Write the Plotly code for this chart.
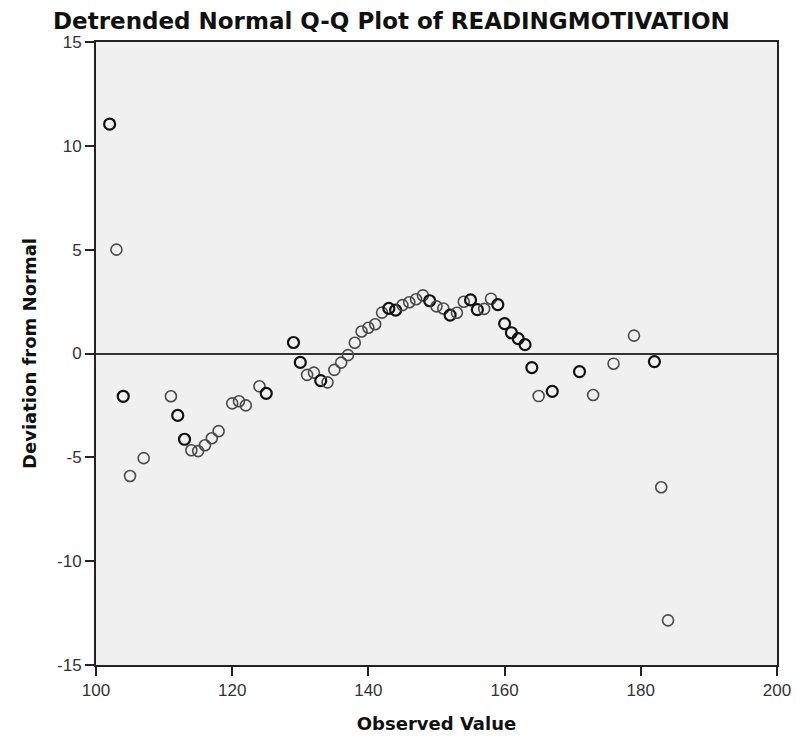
import plotly.graph_objects as go

observed = [102, 103, 104, 105, 107, 111, 112, 113, 114, 115, 116, 117, 118,
            120, 121, 122, 124, 125, 129, 130, 131, 132, 133, 134, 135, 136,
            137, 138, 139, 140, 141, 142, 143, 144, 145, 146, 147, 148, 149,
            150, 151, 152, 153, 154, 155, 156, 157, 158, 159, 160, 161, 162,
            163, 164, 165, 167, 171, 173, 176, 179, 182, 183, 184]
deviation = [11.05, 5.0, -2.06, -5.9, -5.04, -2.06, -2.98, -4.13, -4.66, -4.7,
             -4.42, -4.08, -3.74, -2.4, -2.3, -2.5, -1.58, -1.92, 0.53, -0.43,
             -1.03, -0.92, -1.31, -1.39, -0.79, -0.44, -0.08, 0.52, 1.06, 1.24,
             1.41, 1.97, 2.17, 2.09, 2.33, 2.47, 2.61, 2.8, 2.54, 2.27, 2.17,
             1.85, 1.96, 2.49, 2.58, 2.11, 2.15, 2.64, 2.35, 1.44, 1.0, 0.72,
             0.43, -0.68, -2.05, -1.82, -0.87, -2.0, -0.49, 0.86, -0.39, -6.44,
             -12.85]
# number of cases sharing the same observed value (drawn darker)
cases = [2, 1, 2, 1, 1, 1, 2, 2, 1, 1, 1, 1, 1, 1, 1, 1, 1, 2, 2, 2,
         1, 1, 2, 1, 1, 1, 1, 1, 1, 1, 1, 1, 2, 2, 1, 1, 1, 1, 2, 1, 1,
         2, 1, 1, 2, 2, 1, 1, 2, 2, 2, 2, 2, 2, 1, 2, 2, 1, 1, 1, 2, 1, 1]

x_ticks = [100, 120, 140, 160, 180, 200]
x_tick_labels = ["100", "120", "140", "160", "180", "200"]
y_ticks = [-15, -10, -5, 0, 5, 10, 15]
y_tick_labels = ["-15", "-10", "-5", "0", "5", "10", "15"]

line_colors = ["#111111" if c > 1 else "#4a4a4a" for c in cases]
line_widths = [2.2 if c > 1 else 1.6 for c in cases]

fig = go.Figure()
fig.add_trace(go.Scatter(
    x=observed, y=deviation, mode="markers",
    marker=dict(symbol="circle-open", size=11, color=line_colors,
                line=dict(color=line_colors, width=line_widths)),
    hoverinfo="x+y", showlegend=False))

axis_common = dict(showline=True, linecolor="#222222", linewidth=2, mirror=True,
                   ticks="outside", ticklen=9, tickcolor="#222222", tickwidth=1.5,
                   showgrid=False,
                   tickfont=dict(family="Liberation Sans", size=17, color="#333333"))

fig.update_layout(
    width=803, height=743,
    margin=dict(l=96, r=20, t=42, b=75),
    paper_bgcolor="white", plot_bgcolor="#f0f0f0",
    title=dict(text="<b>Detrended Normal Q-Q Plot of READINGMOTIVATION</b>",
               x=53 / 803, xanchor="left", y=1 - 21 / 743, yanchor="middle",
               font=dict(family="DejaVu Sans", size=23, color="#111111")),
    xaxis=dict(range=[100, 200], tickvals=x_ticks, ticktext=x_tick_labels, zeroline=False,
               title=dict(text="<b>Observed Value</b>", standoff=18,
                          font=dict(family="DejaVu Sans", size=18, color="#111111")),
               **axis_common),
    yaxis=dict(range=[-15, 15], tickvals=y_ticks, ticktext=y_tick_labels, zeroline=True,
               zerolinecolor="#333333", zerolinewidth=2,
               title=dict(text="<b>Deviation from Normal</b>", standoff=16,
                          font=dict(family="DejaVu Sans", size=18, color="#111111")),
               **axis_common),
)

fig.write_html("out.html", config={"displayModeBar": False},
               post_script="document.body.style.margin='0';document.body.style.overflow='hidden';")
